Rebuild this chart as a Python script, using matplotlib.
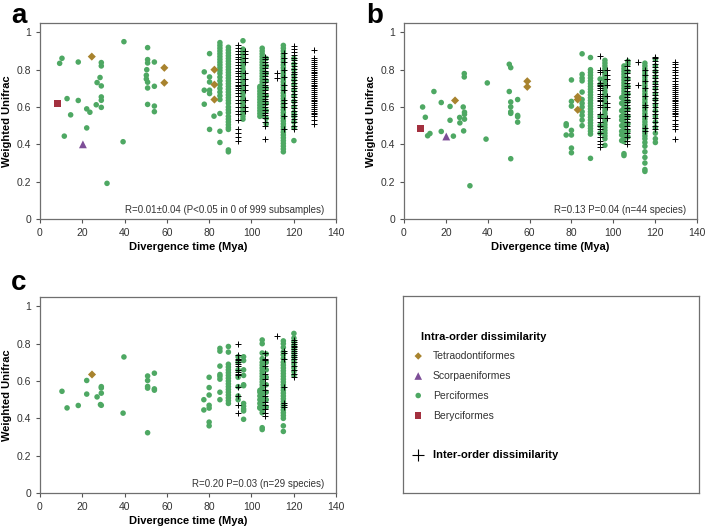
import matplotlib
matplotlib.use("Agg")
import matplotlib.pyplot as plt

plt.rcParams['font.family'] = ['Liberation Sans', 'DejaVu Sans']

GREEN = '#4ea863'
TETRA = '#a8832e'
SCORP = '#7d4e97'
BERYC = '#a3303f'

# ---- panel a ----
a_tetra_x = [24.5, 58.8, 58.8, 82.5, 82.5, 82.5]
a_tetra_y = [0.87, 0.81, 0.73, 0.80, 0.72, 0.64]
a_scorp_x, a_scorp_y = [20.3], [0.40]
a_beryc_x, a_beryc_y = [8.2], [0.62]
a_perc_x = [39.7, 50.9, 10.4, 9.3, 18.1, 29.0, 29.0, 50.9, 50.9, 54.1, 50.5, 50.3, 50.3,
            28.4, 27.0, 29.0, 50.9, 54.1, 50.9, 29.0, 29.0, 12.8, 18.1, 26.6, 29.0, 22.1,
            23.6, 50.9, 54.1, 54.1, 14.5, 22.1, 11.5, 39.3, 31.7]
a_perc_y = [0.95, 0.918, 0.861, 0.834, 0.841, 0.838, 0.82, 0.854, 0.836, 0.841, 0.80, 0.77, 0.75,
            0.758, 0.731, 0.713, 0.733, 0.711, 0.702, 0.654, 0.636, 0.645, 0.635, 0.612, 0.598, 0.59,
            0.572, 0.614, 0.605, 0.575, 0.558, 0.488, 0.444, 0.414, 0.191]
a_perc_cols = [
    (77.7, [0.788, 0.69, 0.615]),
    (80.2, [0.886, 0.761, 0.734, 0.69, 0.672, 0.48]),
    (82.3, [0.551]),
    (85.1, [0.945, 0.93, 0.915, 0.90, 0.885, 0.87, 0.855, 0.84, 0.825, 0.81, 0.795, 0.78, 0.76,
            0.74, 0.72, 0.70, 0.68, 0.66, 0.64, 0.565, 0.47, 0.41]),
    (89.1, [0.92, 0.905, 0.89, 0.875, 0.86, 0.845, 0.83, 0.815, 0.80, 0.785, 0.77, 0.755, 0.74,
            0.725, 0.71, 0.695, 0.68, 0.665, 0.65, 0.635, 0.62, 0.60, 0.585, 0.57, 0.55, 0.535,
            0.52, 0.505, 0.49, 0.48, 0.37, 0.36]),
    (96.0, [0.955, 0.91, 0.895, 0.88, 0.865, 0.85, 0.835, 0.82, 0.805, 0.79, 0.775, 0.76, 0.745,
            0.73, 0.715, 0.70, 0.685, 0.67, 0.655, 0.64, 0.625, 0.61, 0.595, 0.58, 0.565, 0.55, 0.535]),
    (104.0, [0.71, 0.70, 0.685, 0.67, 0.655, 0.64, 0.625, 0.61, 0.595, 0.58, 0.565, 0.55]),
    (105.1, [0.915, 0.90, 0.885, 0.87, 0.855, 0.84, 0.825, 0.81, 0.795, 0.78, 0.765, 0.75, 0.735,
             0.72, 0.705, 0.69, 0.675, 0.66, 0.645, 0.63, 0.615, 0.60, 0.585, 0.57, 0.555]),
    (107.0, [0.86, 0.82, 0.78, 0.74, 0.70, 0.66, 0.62, 0.58, 0.54, 0.51]),
    (115.1, [0.93, 0.915, 0.90, 0.885, 0.87, 0.855, 0.84, 0.825, 0.81, 0.795, 0.78, 0.765, 0.75,
             0.735, 0.72, 0.705, 0.69, 0.675, 0.66, 0.645, 0.63, 0.615, 0.60, 0.585, 0.57, 0.555,
             0.54, 0.525, 0.51, 0.495, 0.48, 0.465, 0.45, 0.435, 0.42, 0.405, 0.39, 0.375, 0.36]),
    (120.1, [0.86, 0.83, 0.80, 0.77, 0.745, 0.72, 0.69, 0.66, 0.63, 0.60, 0.57, 0.55, 0.52, 0.49, 0.42]),
]
a_inter_cols = [
    (93.5, [0.93, 0.915, 0.90, 0.885, 0.87, 0.855, 0.84, 0.825, 0.81, 0.795, 0.78, 0.765, 0.75,
            0.735, 0.72, 0.71, 0.70, 0.69, 0.675, 0.66, 0.64, 0.62, 0.60, 0.58, 0.56, 0.53, 0.48,
            0.46, 0.44, 0.42]),
    (96.8, [0.90, 0.885, 0.86, 0.84, 0.78, 0.75, 0.72, 0.69, 0.64, 0.60, 0.58]),
    (106.5, [0.87, 0.855, 0.84, 0.825, 0.81, 0.795, 0.78, 0.765, 0.75, 0.735, 0.72, 0.705, 0.69,
             0.675, 0.66, 0.645, 0.63, 0.615, 0.60, 0.585, 0.57, 0.555, 0.54, 0.52, 0.50, 0.43]),
    (111.9, [0.78, 0.755]),
    (115.3, [0.89, 0.86, 0.84, 0.80, 0.76, 0.72, 0.69, 0.64, 0.62, 0.60, 0.55, 0.48]),
    (120.1, [0.925, 0.91, 0.895, 0.88, 0.865, 0.85, 0.835, 0.82, 0.805, 0.79, 0.775, 0.76, 0.745,
             0.73, 0.715, 0.70, 0.685, 0.67, 0.655, 0.64, 0.625, 0.61, 0.595, 0.58, 0.565, 0.55,
             0.535, 0.52, 0.50, 0.48]),
    (129.4, [0.905, 0.86, 0.85, 0.84, 0.83, 0.82, 0.81, 0.80, 0.79, 0.78, 0.77, 0.76, 0.75, 0.74,
             0.73, 0.72, 0.71, 0.70, 0.69, 0.68, 0.67, 0.66, 0.65, 0.64, 0.63, 0.62, 0.61, 0.60,
             0.59, 0.58, 0.57, 0.56, 0.55, 0.53, 0.51]),
]

# ---- panel b ----
b_tetra_x = [24.4, 58.9, 58.9, 83.0, 83.0, 83.0]
b_tetra_y = [0.635, 0.738, 0.708, 0.655, 0.64, 0.585]
b_scorp_x, b_scorp_y = [20.2], [0.442]
b_beryc_x, b_beryc_y = [7.8], [0.483]
b_perc_x = [28.8, 28.8, 50.3, 51.0, 39.8, 14.3, 50.3, 17.8, 22.0, 28.3, 8.9, 51.0, 51.0, 54.3,
            28.9, 28.9, 51.0, 51.0, 10.2, 22.0, 26.6, 28.9, 54.3, 54.3, 26.7, 54.3, 17.8, 28.5,
            23.6, 12.4, 11.3, 39.2, 51.0, 31.5]
b_perc_y = [0.779, 0.761, 0.829, 0.811, 0.729, 0.683, 0.683, 0.624, 0.603, 0.60, 0.60, 0.627, 0.601,
            0.64, 0.572, 0.561, 0.574, 0.566, 0.545, 0.529, 0.544, 0.535, 0.555, 0.548, 0.515, 0.519,
            0.469, 0.472, 0.444, 0.458, 0.446, 0.428, 0.323, 0.178]
b_perc_cols = [
    (77.5, [0.51, 0.50, 0.45]),
    (80.0, [0.745, 0.63, 0.605, 0.475, 0.45, 0.38, 0.355]),
    (85.1, [0.885, 0.775, 0.755, 0.74, 0.68, 0.64, 0.62, 0.60, 0.575, 0.555, 0.53, 0.50]),
    (89.1, [0.865, 0.80, 0.785, 0.77, 0.755, 0.74, 0.725, 0.71, 0.695, 0.68, 0.665, 0.65, 0.635,
            0.62, 0.605, 0.59, 0.575, 0.56, 0.545, 0.53, 0.515, 0.50, 0.485, 0.47, 0.455, 0.325]),
    (93.7, [0.75, 0.72, 0.55, 0.50, 0.46]),
    (96.0, [0.85, 0.835, 0.82, 0.805, 0.79, 0.775, 0.76, 0.745, 0.73, 0.715, 0.70, 0.685, 0.67,
            0.655, 0.64, 0.625, 0.61, 0.595, 0.58, 0.565, 0.55, 0.535, 0.52, 0.505, 0.49, 0.475,
            0.46, 0.445, 0.43, 0.395]),
    (104.0, [0.65, 0.62, 0.58, 0.55, 0.53, 0.50, 0.47, 0.45, 0.42]),
    (105.1, [0.82, 0.805, 0.79, 0.775, 0.76, 0.745, 0.73, 0.715, 0.70, 0.685, 0.67, 0.655, 0.64,
             0.625, 0.61, 0.595, 0.58, 0.565, 0.55, 0.535, 0.52, 0.505, 0.49, 0.475, 0.46, 0.445,
             0.43, 0.415, 0.35, 0.34]),
    (107.0, [0.845, 0.83, 0.79, 0.75, 0.71, 0.67, 0.63, 0.59, 0.55, 0.51, 0.47, 0.44]),
    (115.1, [0.835, 0.82, 0.805, 0.79, 0.775, 0.76, 0.745, 0.73, 0.715, 0.70, 0.685, 0.67, 0.655,
             0.64, 0.625, 0.61, 0.595, 0.58, 0.565, 0.55, 0.535, 0.52, 0.505, 0.49, 0.475, 0.46,
             0.445, 0.43, 0.41, 0.39, 0.36, 0.33, 0.30, 0.265, 0.255]),
    (120.1, [0.855, 0.82, 0.79, 0.76, 0.73, 0.70, 0.67, 0.64, 0.61, 0.58, 0.55, 0.52, 0.49, 0.46,
             0.43, 0.41]),
]
b_inter_cols = [
    (93.5, [0.875, 0.80, 0.79, 0.73, 0.72, 0.71, 0.70, 0.69, 0.67, 0.66, 0.65, 0.64, 0.63, 0.61,
            0.60, 0.56, 0.54, 0.52, 0.50, 0.48, 0.46, 0.44, 0.42, 0.40, 0.385]),
    (96.8, [0.80, 0.77, 0.75, 0.72, 0.66, 0.62, 0.60, 0.54]),
    (106.5, [0.85, 0.82, 0.80, 0.78, 0.76, 0.745, 0.73, 0.715, 0.70, 0.685, 0.67, 0.655, 0.64,
             0.625, 0.61, 0.595, 0.58, 0.565, 0.55, 0.535, 0.52, 0.50, 0.48, 0.46, 0.44, 0.42, 0.40]),
    (111.9, [0.84, 0.72]),
    (115.3, [0.80, 0.77, 0.74, 0.70, 0.66, 0.61, 0.60, 0.55, 0.49, 0.47]),
    (120.1, [0.87, 0.86, 0.845, 0.83, 0.815, 0.80, 0.785, 0.77, 0.755, 0.74, 0.725, 0.71, 0.695,
             0.68, 0.665, 0.65, 0.635, 0.62, 0.60, 0.58, 0.56, 0.54, 0.52, 0.50, 0.48]),
    (129.4, [0.84, 0.83, 0.815, 0.80, 0.785, 0.77, 0.755, 0.74, 0.725, 0.71, 0.70, 0.69, 0.68,
             0.67, 0.66, 0.65, 0.64, 0.63, 0.62, 0.61, 0.60, 0.59, 0.58, 0.57, 0.56, 0.55, 0.53,
             0.51, 0.50, 0.48, 0.43]),
]

# ---- panel c ----
c_tetra_x, c_tetra_y = [24.6], [0.635]
c_perc_x = [39.7, 54.1, 50.9, 50.9, 22.1, 50.9, 50.9, 54.1, 54.1, 29.0, 29.0, 29.0, 10.4, 22.1,
            27.0, 28.6, 29.0, 18.1, 12.8, 39.3, 50.9]
c_perc_y = [0.729, 0.642, 0.627, 0.603, 0.603, 0.571, 0.562, 0.558, 0.551, 0.57, 0.563, 0.535,
            0.545, 0.53, 0.515, 0.474, 0.47, 0.469, 0.456, 0.428, 0.323]
c_perc_cols = [
    (77.5, [0.50, 0.445]),
    (80.0, [0.62, 0.565, 0.525, 0.47, 0.455, 0.38, 0.36]),
    (85.1, [0.775, 0.76, 0.68, 0.635, 0.625, 0.61, 0.54, 0.50]),
    (89.1, [0.785, 0.755, 0.69, 0.675, 0.66, 0.645, 0.63, 0.615, 0.60, 0.585, 0.57, 0.555, 0.54,
            0.525, 0.51, 0.495, 0.48]),
    (93.7, [0.73, 0.70, 0.66, 0.62, 0.57, 0.52, 0.50]),
    (96.3, [0.73, 0.71, 0.66, 0.63, 0.58, 0.575, 0.48, 0.465, 0.45, 0.44, 0.395]),
    (104.0, [0.55, 0.54, 0.52, 0.50, 0.48, 0.46, 0.455]),
    (105.1, [0.82, 0.80, 0.75, 0.72, 0.70, 0.685, 0.67, 0.655, 0.64, 0.625, 0.61, 0.595, 0.58,
             0.565, 0.55, 0.535, 0.52, 0.505, 0.49, 0.475, 0.46, 0.445, 0.43, 0.35, 0.34]),
    (107.0, [0.745, 0.70, 0.66, 0.62, 0.58, 0.54, 0.50, 0.46]),
    (115.1, [0.815, 0.80, 0.78, 0.755, 0.74, 0.72, 0.70, 0.685, 0.67, 0.655, 0.64, 0.625, 0.61,
             0.595, 0.58, 0.565, 0.55, 0.535, 0.52, 0.505, 0.49, 0.475, 0.46, 0.445, 0.43, 0.415,
             0.40, 0.36, 0.33]),
    (120.1, [0.855, 0.83, 0.81, 0.79, 0.77, 0.75, 0.73, 0.71, 0.69, 0.67, 0.65, 0.63]),
]
c_inter_cols = [
    (93.5, [0.80, 0.74, 0.72, 0.71, 0.70, 0.69, 0.68, 0.66, 0.65, 0.64, 0.63, 0.57, 0.52, 0.47, 0.43]),
    (106.5, [0.75, 0.72, 0.71, 0.68, 0.64, 0.61, 0.58, 0.55, 0.52, 0.49, 0.47, 0.45, 0.43, 0.41]),
    (111.9, [0.84]),
    (115.3, [0.76, 0.75, 0.72, 0.57, 0.48, 0.47, 0.46]),
    (120.1, [0.82, 0.81, 0.80, 0.79, 0.78, 0.77, 0.76, 0.75, 0.74, 0.73, 0.72, 0.70, 0.68, 0.66,
             0.64, 0.62]),
]

x_ticks = [0, 20, 40, 60, 80, 100, 120, 140]
y_ticks = [0, 0.2, 0.4, 0.6, 0.8, 1]
y_tick_labels = ['0', '0.2', '0.4', '0.6', '0.8', '1']
stats = {
    'a': 'R=0.01\u00b10.04 (P<0.05 in 0 of 999 subsamples)',
    'b': 'R=0.13 P=0.04 (n=44 species)',
    'c': 'R=0.20 P=0.03 (n=29 species)',
}
legend_labels = ['Tetraodontiformes', 'Scorpaeniformes', 'Perciformes', 'Beryciformes']


def expand(cols):
    xs, ys = [], []
    for x, vals in cols:
        xs += [x] * len(vals)
        ys += vals
    return xs, ys


def draw_panel(ax, perc_x, perc_y, perc_cols, inter_cols, tetra, scorp=None, beryc=None, note=''):
    cx, cy = expand(perc_cols)
    ax.scatter(perc_x + cx, perc_y + cy, s=16, color=GREEN, edgecolors='none', zorder=2)
    ix, iy = expand(inter_cols)
    ax.scatter(ix, iy, s=14, marker='+', color='black', linewidths=0.7, zorder=3)
    ax.scatter(tetra[0], tetra[1], s=17, marker='D', color=TETRA, edgecolors='none', zorder=4)
    if scorp:
        ax.scatter(scorp[0], scorp[1], s=32, marker='^', color=SCORP, edgecolors='none', zorder=4)
    if beryc:
        ax.scatter(beryc[0], beryc[1], s=26, marker='s', color=BERYC, edgecolors='none', zorder=4)
    ax.set_xlim(0, 140)
    ax.set_ylim(0, 1.05)
    ax.set_xticks(x_ticks)
    ax.set_yticks(y_ticks)
    ax.set_yticklabels(y_tick_labels)
    ax.tick_params(labelsize=7.5, colors='#555555', labelcolor='#333333', length=3, width=0.8)
    for sp in ax.spines.values():
        sp.set_color('#6f6f6f')
        sp.set_linewidth(0.9)
    ax.set_xlabel('Divergence time (Mya)', fontsize=8, fontweight='bold', labelpad=3)
    ax.set_ylabel('Weighted Unifrac', fontsize=8, fontweight='bold')
    ax.yaxis.set_label_coords(-0.095, 0.5)
    ax.text(0.962, 0.047, note, transform=ax.transAxes, ha='right', va='center',
            fontsize=7, color='#333333')


fig = plt.figure(figsize=(7.09, 5.29), dpi=100)
ax_a = fig.add_axes([0.0564, 0.586, 0.4175, 0.3705])
ax_b = fig.add_axes([0.5698, 0.586, 0.4133, 0.3705])
ax_c = fig.add_axes([0.0564, 0.068, 0.4175, 0.3705])

draw_panel(ax_a, a_perc_x, a_perc_y, a_perc_cols, a_inter_cols, (a_tetra_x, a_tetra_y),
           (a_scorp_x, a_scorp_y), (a_beryc_x, a_beryc_y), stats['a'])
draw_panel(ax_b, b_perc_x, b_perc_y, b_perc_cols, b_inter_cols, (b_tetra_x, b_tetra_y),
           (b_scorp_x, b_scorp_y), (b_beryc_x, b_beryc_y), stats['b'])
draw_panel(ax_c, c_perc_x, c_perc_y, c_perc_cols, c_inter_cols, (c_tetra_x, c_tetra_y),
           note=stats['c'])

fig.text(0.016, 0.995, 'a', fontsize=20, fontweight='bold', va='top')
fig.text(0.517, 0.995, 'b', fontsize=20, fontweight='bold', va='top')
fig.text(0.016, 0.49, 'c', fontsize=20, fontweight='bold', va='top')

# legend box drawn as its own axes, in pixel-like coordinates
lg = fig.add_axes([0.568, 0.068, 0.4175, 0.3724])
lg.set_xlim(403, 699)
lg.set_ylim(493, 296)
lg.set_xticks([])
lg.set_yticks([])
for sp in lg.spines.values():
    sp.set_color('#6f6f6f')
    sp.set_linewidth(0.9)
lg.text(421, 336.5, 'Intra-order dissimilarity', fontsize=8, fontweight='bold', va='center')
leg_markers = [('D', TETRA, 14), ('^', SCORP, 30), ('o', GREEN, 16), ('s', BERYC, 20)]
leg_rows = [356, 376, 395.5, 415.5]
for (m, c, s), row, lab in zip(leg_markers, leg_rows, legend_labels):
    lg.scatter([418.5], [row], marker=m, s=s, color=c, edgecolors='none')
    lg.text(433, row, lab, fontsize=7.5, va='center', color='#333333')
lg.scatter([418.5], [454.5], marker='+', s=70, color='black', linewidths=0.8)
lg.text(433, 454.5, 'Inter-order dissimilarity', fontsize=8, fontweight='bold', va='center')

fig.savefig('out.png', dpi=100)
